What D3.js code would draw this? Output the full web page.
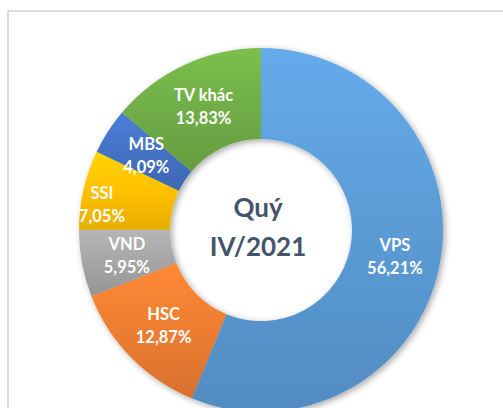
<!DOCTYPE html>
<html>
<head>
<meta charset="utf-8">
<script src="https://cdn.jsdelivr.net/npm/d3@7"></script>
<style>
  html, body { margin: 0; padding: 0; background: #fff; }
  svg { display: block; }
</style>
</head>
<body>
<svg id="chart" width="503" height="408"></svg>
<script>
const categories = ["VPS", "HSC", "VND", "SSI", "MBS", "TV khác"];
const values = [56.21, 12.87, 5.95, 7.05, 4.09, 13.83];
const colors = ["#5B9BD5", "#ED7D31", "#A5A5A5", "#FFC000", "#4472C4", "#70AD47"];
const centerLines = ["Quý", "IV/2021"];

const W = 503, H = 408;
const cx = 261, cy = 230, outerR = 182, innerR = 91;

const svg = d3.select("#chart");
const defs = svg.append("defs");

// drop shadow
const f = defs.append("filter").attr("id", "shadow")
  .attr("x", "-20%").attr("y", "-20%").attr("width", "140%").attr("height", "140%");
f.append("feDropShadow").attr("dx", 2).attr("dy", 2).attr("stdDeviation", 3)
  .attr("flood-color", "#000").attr("flood-opacity", 0.35);

// gradients
colors.forEach((c, i) => {
  const g = defs.append("linearGradient").attr("id", "grad" + i)
    .attr("x1", 0).attr("y1", 0).attr("x2", 0).attr("y2", 1);
  g.append("stop").attr("offset", "0%").attr("stop-color", d3.color(c).brighter(0.28).formatHex());
  g.append("stop").attr("offset", "50%").attr("stop-color", c);
  g.append("stop").attr("offset", "100%").attr("stop-color", d3.color(c).darker(0.28).formatHex());
});

// frame
svg.append("rect")
  .attr("x", 8).attr("y", 11).attr("width", W + 20).attr("height", H + 20)
  .attr("fill", "none").attr("stroke", "#d9d9d9").attr("stroke-width", 1.8);

const data = categories.map((c, i) => ({ name: c, value: values[i], idx: i }));
const pie = d3.pie().value(d => d.value).sort(null);
const arc = d3.arc().innerRadius(innerR).outerRadius(outerR);
const arcs = pie(data);

const g = svg.append("g").attr("transform", `translate(${cx},${cy})`);

g.append("g").attr("filter", "url(#shadow)")
  .selectAll("path").data(arcs).join("path")
  .attr("d", arc)
  .attr("fill", d => `url(#grad${d.data.idx})`);

const fmt = v => d3.format(".2f")(v).replace(".", ",") + "%";
const nudge = { "SSI": [-26, 4.5] };

const labels = g.append("g").selectAll("text").data(arcs).join("text")
  .attr("transform", d => {
    const [x, y] = arc.centroid(d);
    const n = nudge[d.data.name] || [0, 0];
    return `translate(${x + n[0]},${y + n[1]})`;
  })
  .attr("text-anchor", "middle")
  .attr("font-family", "Lato, 'Open Sans', sans-serif")
  .attr("font-weight", "bold")
  .attr("font-size", 16.5)
  .attr("fill", "#fff");
labels.append("tspan").attr("x", 0).attr("y", -5.5).text(d => d.data.name);
labels.append("tspan").attr("x", 0).attr("y", 17.5).text(d => fmt(d.data.value));

const ct = g.append("text")
  .attr("text-anchor", "middle")
  .attr("font-family", "Lato, 'Open Sans', sans-serif")
  .attr("font-weight", "bold")
  .attr("font-size", 26)
  .attr("fill", "#44546A");
ct.append("tspan").attr("x", -3).attr("y", -13).text(centerLines[0]);
ct.append("tspan").attr("x", -3).attr("y", 26).text(centerLines[1]);
</script>
</body>
</html>
